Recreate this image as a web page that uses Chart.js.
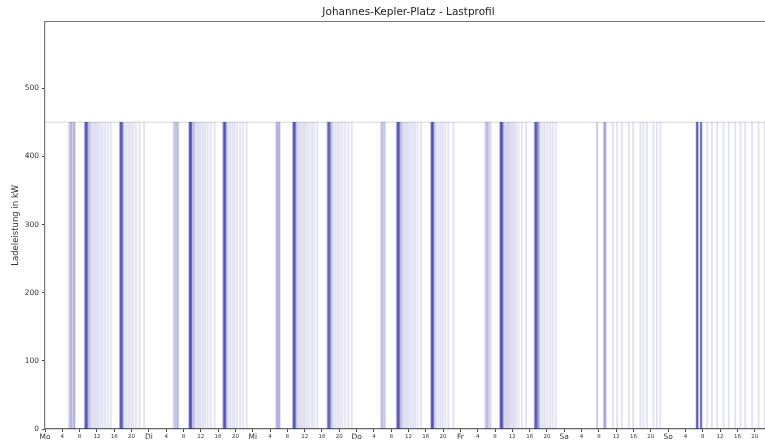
<!DOCTYPE html>
<html>
<head>
<meta charset="utf-8">
<script src="https://cdn.jsdelivr.net/npm/chart.js@4/dist/chart.umd.min.js"></script>
<style>
  html, body { margin: 0; padding: 0; background: #fff; overflow: hidden; }
  #wrap { width: 780px; height: 446px; }
</style>
</head>
<body>
<div id="wrap"><canvas id="c" width="780" height="446"></canvas></div>
<script>
// Week axis: day names at midnight, hour labels every 4 hours
const dayLabels = ['Mo', 'Di', 'Mi', 'Do', 'Fr', 'Sa', 'So'];
const hourStep = 4;
const yTickValues = [0, 100, 200, 300, 400, 500];
const peakPower = 450;   // kW per charging peak
const yLimit = 598;

// Charging peaks as hour of day, grouped by how often they recur across the weeks
const moStrong = [9.4, 9.65, 17.5, 17.75];
const moMedium = [9.2, 9.9, 10.3, 17.3, 18.0];
const moFaint  = [5.5, 5.75, 6.0, 6.0, 6.25, 6.5, 6.75, 6.75, 6.9,
                  10.7, 11.1, 11.5, 11.9, 12.3, 12.8, 13.3, 13.9, 14.5, 15.2,
                  18.4, 18.9, 19.4, 19.9, 20.4, 21.0, 21.8, 22.9];

const diStrong = [9.5, 9.75, 17.4, 17.65];
const diMedium = [9.3, 10.0, 10.4, 17.15, 17.9];
const diFaint  = [5.7, 5.95, 6.1, 6.35, 6.6, 6.6, 6.85,
                  10.8, 11.2, 11.6, 12.0, 12.5, 13.0, 13.6, 14.3, 15.2,
                  18.3, 18.8, 19.3, 19.8, 20.4, 21.1, 21.8, 22.6];

const miStrong = [9.5, 9.75, 17.5, 17.8];
const miMedium = [9.3, 10.1, 17.3, 18.2];
const miFaint  = [5.4, 5.6, 5.6, 5.85, 6.05, 6.2, 6.2,
                  10.5, 10.9, 11.3, 11.7, 12.1, 12.6, 13.1, 13.7, 14.2, 14.9,
                  18.6, 19.1, 19.6, 20.1, 20.7, 21.4, 22.1, 22.9];

const doStrong = [9.5, 9.75, 17.4, 17.65];
const doMedium = [9.3, 10.0, 10.4, 17.2, 18.0];
const doFaint  = [5.6, 5.9, 5.9, 6.2, 6.4, 6.6,
                  10.8, 11.2, 11.6, 12.0, 12.5, 13.0, 13.5, 14.1, 14.9,
                  18.4, 18.9, 19.4, 19.9, 20.5, 21.2, 22.4];

const frStrong = [9.35, 9.6, 17.35, 17.6];
const frMedium = [9.15, 9.85, 17.15, 17.9, 18.1];
const frFaint  = [5.7, 5.95, 6.2, 6.2, 6.45, 6.7, 7.0,
                  10.1, 10.4, 10.7, 11.0, 11.3, 11.6, 12.0, 12.4, 12.8, 13.4, 14.2, 15.2,
                  18.5, 19.0, 19.5, 20.1, 20.7, 21.3, 22.0];

const saStrong = [];
const saMedium = [9.3, 9.55];
const saFaint  = [7.6, 7.6, 9.1, 11.2, 12.2, 13.3, 14.9, 15.9, 17.6, 18.3, 19.1, 20.6, 21.4, 22.2];

const soStrong = [6.7, 7.55];
const soMedium = [6.55, 6.9, 7.75];
const soFaint  = [9.0, 10.1, 11.3, 12.8, 14.0, 15.5, 16.7, 17.8, 19.4, 20.9, 22.3];

const strongByDay = [moStrong, diStrong, miStrong, doStrong, frStrong, saStrong, soStrong];
const mediumByDay = [moMedium, diMedium, miMedium, doMedium, frMedium, saMedium, soMedium];
const faintByDay  = [moFaint, diFaint, miFaint, doFaint, frFaint, saFaint, soFaint];

// hour of day -> hour of week
function toWeek(byDay) {
  return byDay.flatMap((hours, d) => hours.map(h => ({ x: d * 24 + h, y: peakPower })));
}

const peakDataset = (label, data, color) => ({
  type: 'bar',
  label,
  data,
  backgroundColor: color,
  borderWidth: 0,
  barThickness: 1.2,
  grouped: false
});

// top frame line of the plot box
const frameTop = {
  id: 'frameTop',
  afterDraw(chart) {
    const { ctx, chartArea } = chart;
    ctx.save();
    ctx.strokeStyle = '#777';
    ctx.lineWidth = 1.2;
    ctx.beginPath();
    ctx.moveTo(chartArea.left, chartArea.top);
    ctx.lineTo(chartArea.right, chartArea.top);
    ctx.stroke();
    ctx.restore();
  }
};

new Chart(document.getElementById('c'), {
  type: 'bar',
  data: {
    datasets: [
      {
        type: 'line',
        label: 'max',
        data: [{ x: 0, y: peakPower }, { x: 7 * 24, y: peakPower }],
        borderColor: 'rgba(0,0,0,0.1)',
        borderWidth: 1.5,
        pointRadius: 0
      },
      peakDataset('selten', toWeek(faintByDay), 'rgba(20,20,150,0.12)'),
      peakDataset('mittel', toWeek(mediumByDay), 'rgba(20,20,150,0.26)'),
      peakDataset('häufig', toWeek(strongByDay), 'rgba(20,20,150,0.55)')
    ]
  },
  options: {
    responsive: false,
    animation: false,
    layout: { padding: { left: 0, right: 8, top: 0, bottom: 0 } },
    plugins: {
      legend: { display: false },
      tooltip: { enabled: false },
      title: {
        display: true,
        text: 'Johannes-Kepler-Platz - Lastprofil',
        fullSize: false,
        color: '#222',
        font: { family: 'DejaVu Sans', size: 10.5, weight: 'normal', lineHeight: 1 },
        padding: { top: 7, bottom: 4 }
      }
    },
    scales: {
      x: {
        type: 'linear',
        min: 0,
        max: 7 * 24,
        offset: false,
        grid: { display: true, drawOnChartArea: false, drawTicks: true, tickLength: 3, tickColor: '#444', offset: false },
        border: { display: true, color: '#666', width: 1.2 },
        ticks: {
          stepSize: hourStep,
          autoSkip: false,
          maxRotation: 0,
          includeBounds: false,
          padding: 1,
          color: '#333',
          font: (ctx) => (ctx.tick && ctx.tick.value % 24 === 0)
            ? { family: 'DejaVu Sans', size: 7.5 }
            : { family: 'DejaVu Sans', size: 5.5 },
          callback: (v) => v % 24 === 0 ? dayLabels[v / 24] : String(v % 24)
        },
        afterFit(scale) { scale.height = 17; }
      },
      y: {
        min: 0,
        max: yLimit,
        grid: { display: true, drawOnChartArea: false, drawTicks: true, tickLength: 3, tickColor: '#444' },
        border: { display: true, color: '#777', width: 1.2 },
        ticks: {
          padding: 3,
          color: '#333',
          font: { family: 'DejaVu Sans', size: 7.5 }
        },
        afterBuildTicks(scale) { scale.ticks = yTickValues.map(v => ({ value: v })); },
        title: {
          display: true,
          text: 'Ladeleistung in kW',
          color: '#333',
          font: { family: 'DejaVu Sans', size: 8.5 },
          padding: { top: 11, bottom: 0 }
        },
        afterFit(scale) { scale.width = 45; }
      }
    }
  },
  plugins: [frameTop]
});
</script>
</body>
</html>
